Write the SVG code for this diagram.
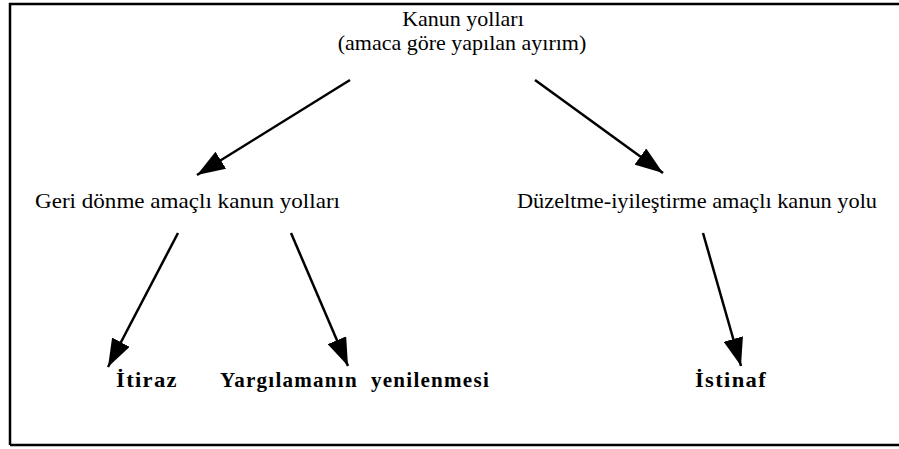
<svg xmlns="http://www.w3.org/2000/svg" width="899" height="449" viewBox="0 0 899 449">
<defs>
<style>
.t{font-family:'Liberation Serif','DejaVu Serif',serif;font-size:22px;fill:#000}
.b{font-family:'Liberation Serif','DejaVu Serif',serif;font-size:22px;font-weight:bold;fill:#000;letter-spacing:1.3px}
</style>
<marker id="ah" viewBox="0 0 28 20" refX="28" refY="10" markerWidth="28" markerHeight="20" orient="auto" markerUnits="userSpaceOnUse">
<path d="M0,0 L28,10 L0,20 Z" fill="#000"/>
</marker>
</defs>
<rect x="0" y="0" width="899" height="449" fill="#fff"/>
<path d="M10,445 L10,4 L899,4 M10,445 L899,445" stroke="#000" stroke-width="2.5" fill="none"/>
<g id="root">
<text class="t" x="463" y="26" text-anchor="middle">Kanun yolları</text>
<text class="t" x="462" y="50" text-anchor="middle">(amaca göre yapılan ayırım)</text>
</g>
<g id="geri"><text class="t" x="35" y="208" textLength="305" lengthAdjust="spacingAndGlyphs">Geri dönme amaçlı kanun yolları</text></g>
<g id="duzeltme"><text class="t" x="517" y="208" textLength="360" lengthAdjust="spacingAndGlyphs">Düzeltme-iyileştirme amaçlı kanun yolu</text></g>
<g id="itiraz"><text class="b" x="116" y="387" textLength="62" lengthAdjust="spacingAndGlyphs">İtiraz</text></g>
<g id="yargilama"><text class="b" x="220" y="387" xml:space="preserve" textLength="270" lengthAdjust="spacingAndGlyphs">Yargılamanın  yenilenmesi</text></g>
<g id="istinaf"><text class="b" x="695" y="387" textLength="72" lengthAdjust="spacingAndGlyphs">İstinaf</text></g>
<g id="connectors" stroke="#000" stroke-width="2.5" fill="none">
<line x1="350" y1="80" x2="197" y2="175" marker-end="url(#ah)"/>
<line x1="535" y1="80" x2="663" y2="173" marker-end="url(#ah)"/>
<line x1="178" y1="233" x2="108" y2="367" marker-end="url(#ah)"/>
<line x1="291" y1="233" x2="348" y2="366" marker-end="url(#ah)"/>
<line x1="703" y1="233" x2="741" y2="366" marker-end="url(#ah)"/>
</g>
</svg>
